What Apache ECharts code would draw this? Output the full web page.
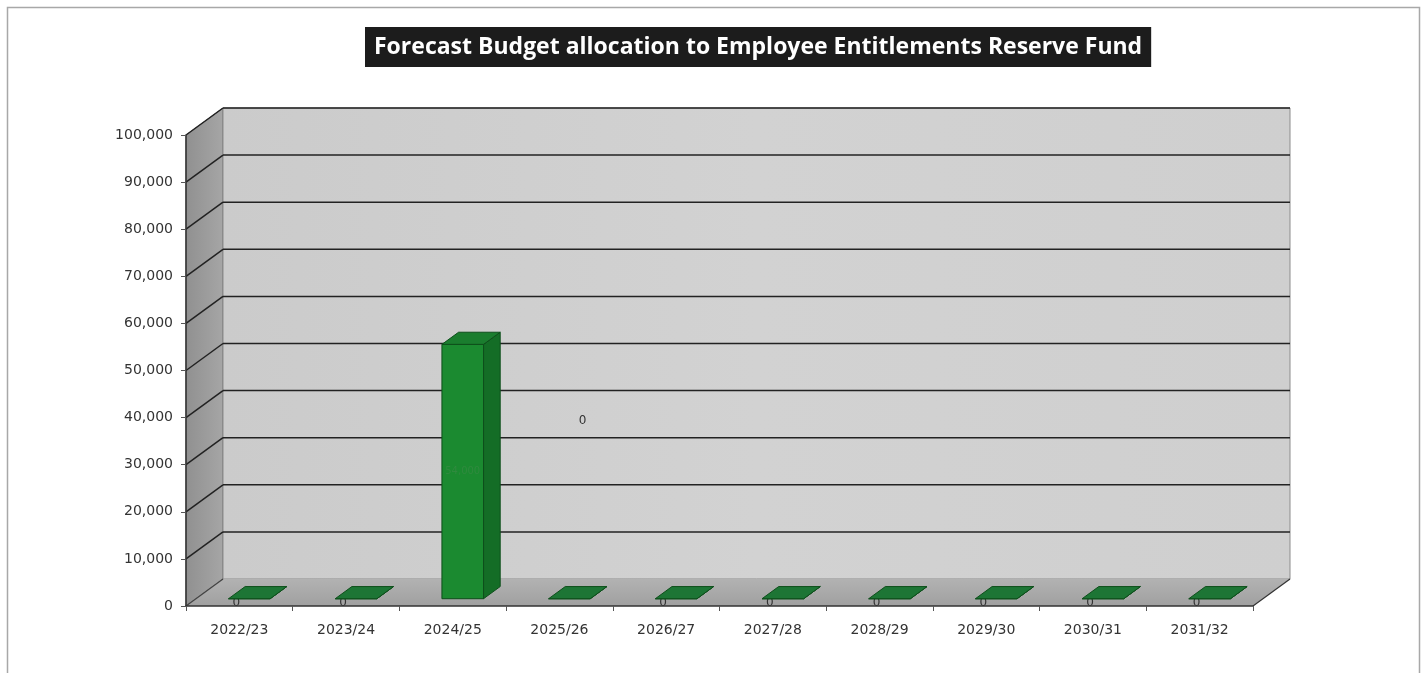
<!DOCTYPE html>
<html><head><meta charset="utf-8">
<script src="https://cdn.jsdelivr.net/npm/echarts@6/dist/echarts.min.js"></script>
<style>html,body{margin:0;padding:0;background:#fff}#c{width:1426px;height:673px}</style>
</head><body><div id="c"></div>
<script>
const chartTitle = 'Forecast Budget allocation to Employee Entitlements Reserve Fund';
const categories = ['2022/23','2023/24','2024/25','2025/26','2026/27','2027/28','2028/29','2029/30','2030/31','2031/32'];
const allocation = [0, 0, 54000, 0, 0, 0, 0, 0, 0, 0];
const yTicks = [0, 10000, 20000, 30000, 40000, 50000, 60000, 70000, 80000, 90000, 100000];

const DX = 37, DY = -27;          // 3D depth offset
const FRONT_GAP = 0.27, BAR_DEPTH = 0.45, BAR_W = 0.39;
const FONT = '"Open Sans", "Noto Sans", sans-serif';
const AXIS_FONT = '"DejaVu Sans", sans-serif';

const chart = echarts.init(document.getElementById('c'));

function fmt(v) { return Number(v).toLocaleString('en-US'); }

function wallsRender(params, api) {
  const cs = params.coordSys;
  const x0 = cs.x, x1 = cs.x + cs.width, yt = cs.y, yb = cs.y + cs.height;
  return { type: 'group', children: [
    { type: 'polygon', shape: { points: [[x0, yb], [x0, yt], [x0 + DX, yt + DY], [x0 + DX, yb + DY]] },
      style: { fill: new echarts.graphic.LinearGradient(0, 0, 1, 0, [{offset: 0, color: '#909090'}, {offset: 1, color: '#a6a6a6'}]), stroke: '#6a6a6a', lineWidth: 1 } },
    { type: 'rect', shape: { x: x0 + DX, y: yt + DY, width: cs.width, height: cs.height },
      style: { fill: new echarts.graphic.LinearGradient(0, 0, 1, 0, [{offset: 0, color: '#cbcbcb'}, {offset: 0.5, color: '#d2d2d2'}, {offset: 1, color: '#cfcfcf'}]), stroke: '#8c8c8c', lineWidth: 1 } },
    { type: 'polygon', shape: { points: [[x0, yb], [x1, yb], [x1 + DX, yb + DY], [x0 + DX, yb + DY]] },
      style: { fill: new echarts.graphic.LinearGradient(0, 0, 0, 1, [{offset: 0, color: '#b2b2b2'}, {offset: 1, color: '#a0a0a0'}]) } },
    { type: 'line', shape: { x1: x1, y1: yb, x2: x1 + DX, y2: yb + DY }, style: { stroke: '#333', lineWidth: 1.2 } },
    { type: 'line', shape: { x1: x0, y1: yb, x2: x0 + DX, y2: yb + DY }, style: { stroke: '#444', lineWidth: 1.2 } }
  ]};
}

function gridRender(params, api) {
  const cs = params.coordSys;
  const v = api.value(0);
  if (v === 0) return null;
  const y = api.coord([0, v])[1];
  const x0 = cs.x, x1 = cs.x + cs.width;
  return { type: 'group', children: [
    { type: 'line', shape: { x1: x0, y1: y, x2: x0 + DX, y2: y + DY }, style: { stroke: '#222', lineWidth: 1.5 } },
    { type: 'line', shape: { x1: x0 + DX, y1: y + DY, x2: x1 + DX, y2: y + DY }, style: { stroke: '#222', lineWidth: 1.5 } }
  ]};
}

function barRender(params, api) {
  const i = api.value(0), v = api.value(1);
  const c = api.coord([i, v]), b = api.coord([i, 0]);
  const band = api.size([1, 0])[0];
  const w = band * BAR_W;
  const ox = DX * FRONT_GAP, oy = DY * FRONT_GAP, dx = DX * BAR_DEPTH, dy = DY * BAR_DEPTH;
  const left = c[0] - w / 2 + ox, right = left + w, top = c[1] + oy, bottom = b[1] + oy;
  const children = [];
  const label = fmt(v);
  if (v === 0) {
    let lx = c[0] - 3, ly = bottom + 4;
    if (i === 3) { lx = c[0] + 23; ly = bottom - 178; }
    children.push({ type: 'text', style: { text: label, x: lx, y: ly, fill: '#333', font: '12px ' + AXIS_FONT, align: 'center', verticalAlign: 'middle' } });
  }
  children.push({ type: 'rect', shape: { x: left, y: top, width: w, height: bottom - top }, style: { fill: '#1b8a30', stroke: '#0e4f1b', lineWidth: 1 } });
  children.push({ type: 'polygon', shape: { points: [[right, bottom], [right, top], [right + dx, top + dy], [right + dx, bottom + dy]] }, style: { fill: '#146d26', stroke: '#0e4f1b', lineWidth: 1 } });
  children.push({ type: 'polygon', shape: { points: [[left, top], [right, top], [right + dx, top + dy], [left + dx, top + dy]] }, style: { fill: v === 0 ? '#1d7535' : '#1a7d2e', stroke: '#0e4f1b', lineWidth: 1 } });
  if (v !== 0) {
    children.push({ type: 'text', style: { text: label, x: (left + right) / 2, y: (top + bottom) / 2, fill: '#2f8a3e', font: '10px ' + AXIS_FONT, align: 'center', verticalAlign: 'middle' } });
  }
  return { type: 'group', children };
}

chart.setOption({
  animation: false,
  backgroundColor: '#fff',
  title: {
    text: chartTitle, left: 365, top: 27,
    backgroundColor: '#1c1c1c', padding: [6, 9, 6, 9],
    textStyle: { color: '#fff', fontSize: 23, lineHeight: 28, fontWeight: 'bold', fontFamily: FONT }
  },
  graphic: [{ type: 'rect', shape: { x: 7.5, y: 7.5, width: 1412, height: 700 }, style: { fill: 'none', stroke: '#a8a8a8', lineWidth: 1.5 }, z: -10 }],
  grid: { left: 186, top: 135, width: 1067, height: 471 },
  xAxis: {
    type: 'category', data: categories, z: 10,
    axisLine: { lineStyle: { color: '#333', width: 1.5 } },
    axisTick: { show: true, length: 5, lineStyle: { color: '#555' } },
    axisLabel: { color: '#333', fontSize: 14, fontFamily: AXIS_FONT, margin: 17 },
    splitLine: { show: false }
  },
  yAxis: {
    type: 'value', min: 0, max: 100000, interval: 10000, z: 10,
    axisLine: { show: true, lineStyle: { color: '#333', width: 1.5 } },
    axisTick: { show: true, length: 5, lineStyle: { color: '#555' } },
    axisLabel: { color: '#333', fontSize: 14, fontFamily: AXIS_FONT, margin: 13, formatter: v => fmt(v) },
    splitLine: { show: false }
  },
  series: [
    { type: 'custom', name: 'walls', renderItem: wallsRender, data: [[0, 0]], z: 1, silent: true, clip: false },
    { type: 'custom', name: 'grid', renderItem: gridRender, data: yTicks.map(v => [v]), encode: { y: 0 }, z: 2, silent: true, clip: false },
    { type: 'custom', name: 'Allocation', renderItem: barRender, data: allocation.map((v, i) => [i, v]), encode: { x: 0, y: 1 }, z: 3, clip: false }
  ]
});
</script></body></html>
